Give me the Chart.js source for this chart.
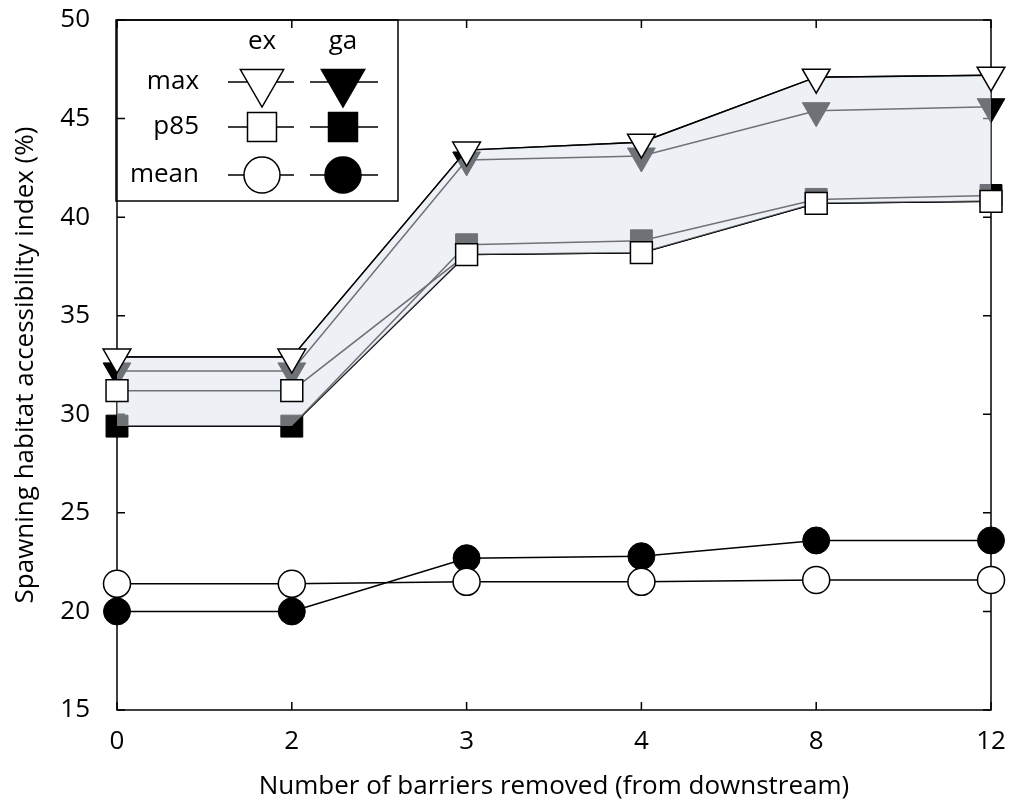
<!DOCTYPE html>
<html>
<head>
<meta charset="utf-8">
<script src="https://cdn.jsdelivr.net/npm/chart.js@4.4.0/dist/chart.umd.min.js"></script>
<style>
  html, body { margin: 0; padding: 0; background: #fff; }
  #wrap { width: 1011px; height: 804px; }
</style>
</head>
<body>
<div id="wrap"><canvas id="chart"></canvas></div>
<script>
// Number of barriers removed (categories)
const barriers = ['0', '2', '3', '4', '8', '12'];

// Spawning habitat accessibility index (%)
const exMax  = [32.9, 32.9, 43.4, 43.8, 47.1, 47.2];
const gaMax  = [32.2, 32.2, 42.9, 43.1, 45.4, 45.6];
const exP85  = [31.2, 31.2, 38.1, 38.2, 40.7, 40.8];
const gaP85  = [29.4, 29.4, 38.6, 38.8, 40.9, 41.1];
const exMean = [21.4, 21.4, 21.5, 21.5, 21.6, 21.6];
const gaMean = [20.0, 20.0, 22.7, 22.8, 23.6, 23.6];

const yTicks = [15, 20, 25, 30, 35, 40, 45, 50];

// lower edge of the shaded band
const bandLow = exP85.map((v, i) => Math.min(v, gaP85[i]));

const FONT = '"Open Sans", "Liberation Sans", sans-serif';
Chart.defaults.font.family = FONT;
Chart.defaults.font.size = 26;
Chart.defaults.color = '#000';

// lines and ga markers sit under the band, ex markers on top of it
function lineOnly(data) {
  return { data, borderColor: '#000', borderWidth: 1.5, pointRadius: 0, fill: false, order: 2, clip: false };
}
function gaSeries(data, style, r) {
  return {
    data, borderColor: '#000', borderWidth: 1.5, fill: false, order: 2, clip: false,
    pointStyle: style, pointRadius: r, pointRotation: style === 'triangle' ? 180 : 0,
    pointBackgroundColor: '#000', pointBorderColor: '#000', pointBorderWidth: 1
  };
}
function exPoints(data, style, r) {
  return {
    data, showLine: false, order: 0, clip: false,
    pointStyle: style, pointRadius: r, pointRotation: style === 'triangle' ? 180 : 0,
    pointBackgroundColor: '#fff', pointBorderColor: '#000', pointBorderWidth: 1.5
  };
}

const framePlugin = {
  id: 'frame',
  beforeDatasetsDraw(chart) {
    const { ctx, chartArea: a, scales: { x, y } } = chart;
    const tl = 8;
    ctx.save();
    ctx.strokeStyle = '#000';
    ctx.lineWidth = 1.5;
    ctx.strokeRect(a.left, a.top, a.right - a.left, a.bottom - a.top);
    ctx.beginPath();
    y.ticks.forEach(t => {
      const py = y.getPixelForValue(t.value);
      ctx.moveTo(a.left, py); ctx.lineTo(a.left + tl, py);
      ctx.moveTo(a.right, py); ctx.lineTo(a.right - tl, py);
    });
    x.ticks.forEach((t, i) => {
      const px = x.getPixelForTick(i);
      ctx.moveTo(px, a.bottom); ctx.lineTo(px, a.bottom - tl);
      ctx.moveTo(px, a.top); ctx.lineTo(px, a.top + tl);
    });
    ctx.stroke();
    ctx.restore();
  }
};

function marker(ctx, style, x, y, r, fillCol) {
  ctx.beginPath();
  if (style === 'triangle') {
    const h = r * Math.sqrt(3) / 2;
    ctx.moveTo(x - h, y - r / 2);
    ctx.lineTo(x + h, y - r / 2);
    ctx.lineTo(x, y + r);
    ctx.closePath();
  } else if (style === 'rect') {
    const s = r * Math.SQRT1_2;
    ctx.rect(x - s, y - s, 2 * s, 2 * s);
  } else {
    ctx.arc(x, y, r, 0, Math.PI * 2);
  }
  ctx.fillStyle = fillCol;
  ctx.fill();
  ctx.stroke();
}

const legendPlugin = {
  id: 'boxLegend',
  afterDraw(chart) {
    const ctx = chart.ctx;
    const left = 116, top = 20, right = 398, bottom = 201;
    ctx.save();
    ctx.strokeStyle = '#000';
    ctx.lineWidth = 1.5;
    ctx.strokeRect(left, top, right - left, bottom - top);
    ctx.font = '26px ' + FONT;
    ctx.fillStyle = '#000';
    ctx.textBaseline = 'middle';
    ctx.textAlign = 'center';
    const colEx = 262, colGa = 343;
    ctx.fillText('ex', colEx, 42);
    ctx.fillText('ga', colGa, 42);
    const rows = [
      { label: 'max', y: 82, style: 'triangle', r: 25 },
      { label: 'p85', y: 127, style: 'rect', r: 20.5 },
      { label: 'mean', y: 175, style: 'circle', r: 18 }
    ];
    rows.forEach(row => {
      ctx.textAlign = 'right';
      ctx.fillStyle = '#000';
      ctx.fillText(row.label, 199, row.y);
      ctx.lineWidth = 1.5;
      ctx.beginPath();
      ctx.moveTo(colEx - 34, row.y); ctx.lineTo(colEx + 32, row.y);
      ctx.moveTo(colGa - 33, row.y); ctx.lineTo(colGa + 35, row.y);
      ctx.stroke();
      marker(ctx, row.style, colEx, row.y, row.r, '#fff');
      marker(ctx, row.style, colGa, row.y, row.r, '#000');
    });
    ctx.restore();
  }
};

new Chart(document.getElementById('chart'), {
  type: 'line',
  data: {
    labels: barriers,
    datasets: [
      exPoints(exMax, 'triangle', 16),
      exPoints(exP85, 'rect', 15.5),
      exPoints(exMean, 'circle', 13.5),
      // shaded band between the max envelope and the lowest p85
      { data: exMax, borderColor: '#000', borderWidth: 1.5, pointRadius: 0, order: 1,
        fill: '+1', backgroundColor: 'rgba(220,228,236,0.5)' },
      { data: bandLow, borderColor: '#000', borderWidth: 1.5, pointRadius: 0, order: 1, fill: false },
      gaSeries(gaMax, 'triangle', 16),
      gaSeries(gaP85, 'rect', 15.5),
      gaSeries(gaMean, 'circle', 13.5),
      lineOnly(exMax),
      lineOnly(exP85),
      lineOnly(exMean)
    ]
  },
  options: {
    responsive: true,
    maintainAspectRatio: false,
    animation: false,
    events: [],
    layout: { padding: { top: 20, right: 20, left: 0, bottom: 0 } },
    elements: { line: { tension: 0 } },
    plugins: { legend: { display: false }, tooltip: { enabled: false } },
    scales: {
      x: {
        type: 'category',
        offset: false,
        grid: { display: false, drawTicks: false },
        border: { display: false },
        ticks: { padding: 16, maxRotation: 0, autoSkip: false },
        title: { display: true, text: 'Number of barriers removed (from downstream)', padding: { top: 0, bottom: 2 } },
        afterFit: s => { s.height = 94; s.paddingLeft = 0; s.paddingRight = 0; }
      },
      y: {
        min: 15,
        max: 50,
        afterBuildTicks: s => { s.ticks = yTicks.map(v => ({ value: v })); },
        grid: { display: false, drawTicks: false },
        border: { display: false },
        ticks: { padding: 27 },
        title: { display: true, text: 'Spawning habitat accessibility index (%)', padding: { top: 10, bottom: 0 } },
        afterFit: s => { s.width = 117; s.paddingTop = 0; s.paddingBottom = 0; }
      }
    }
  },
  plugins: [framePlugin, legendPlugin]
});
</script>
</body>
</html>
